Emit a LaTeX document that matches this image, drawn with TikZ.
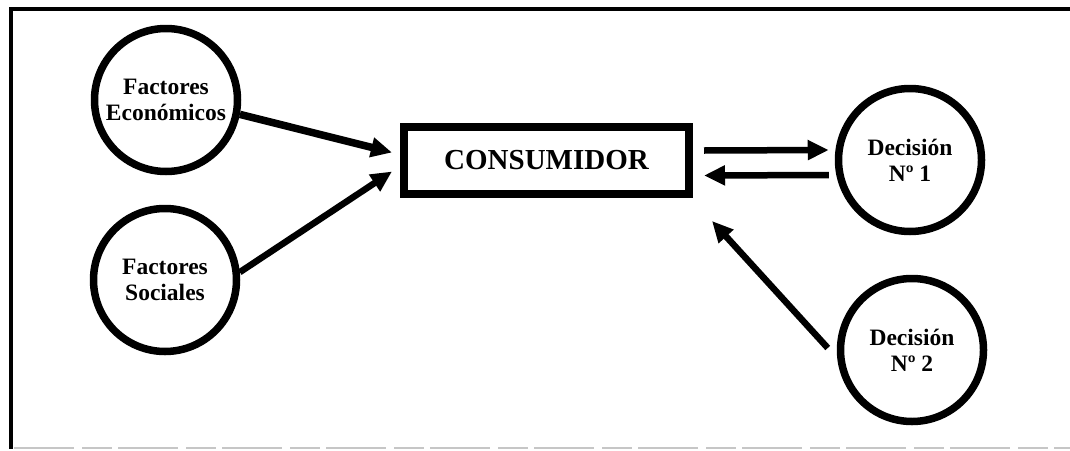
\documentclass[tikz,border=0pt]{standalone}
\usepackage{fontspec}
\setmainfont{Liberation Serif}
\usetikzlibrary{arrows.meta}
\begin{document}
\begin{tikzpicture}[x=1pt,y=-1pt,
  circnode/.style={draw, circle, line width=7.5pt, minimum size=143pt, inner sep=0pt, align=center, font=\fontsize{23.5}{26}\selectfont\bfseries},
  boxnode/.style={draw, rectangle, line width=8pt, minimum width=285pt, minimum height=67pt, inner sep=0pt, font=\fontsize{29}{32}\selectfont\bfseries},
  arr/.style={line width=6.5pt, -{Triangle[length=21pt,width=19pt]}, shorten <=0pt},
  frameline/.style={line width=4pt, line cap=rect}
]
\useasboundingbox (0,0) rectangle (1070,450);
% frame
\draw[frameline] (11,447) -- (11,9) -- (1070,9);
\draw[line width=1.2pt, gray!45, dash pattern=on 60pt off 8pt on 30pt off 6pt] (14,448) -- (1070,448);
% nodes
\node[circnode] (econ) at (166,100) {Factores\\Económicos};
\node[circnode] (soc) at (165,280) {Factores\\Sociales};
\node[boxnode] (cons) at (546.5,160.5) {CONSUMIDOR};
\node[circnode] (d1) at (910,160) {Decisión\\Nº 1};
\node[circnode] (d2) at (912,350) {Decisión\\Nº 2};
% arrows
\draw[arr, line width=7.5pt] (econ.-11) -- ([xshift=-8pt,yshift=8pt]cons.west);
\draw[arr] (soc.6) -- ([xshift=-8pt,yshift=-11pt]cons.west);
\draw[arr] ([xshift=11pt,yshift=10pt]cons.east) -- ([xshift=-6pt,yshift=10pt]d1.west);
\draw[arr] ([xshift=-6pt,yshift=-15pt]d1.west) -- ([xshift=11pt,yshift=-15pt]cons.east);
\draw[arr] ([xshift=-9pt,yshift=2pt]d2.west) -- ([xshift=19pt,yshift=-23pt]cons.south east);
\end{tikzpicture}
\end{document}
